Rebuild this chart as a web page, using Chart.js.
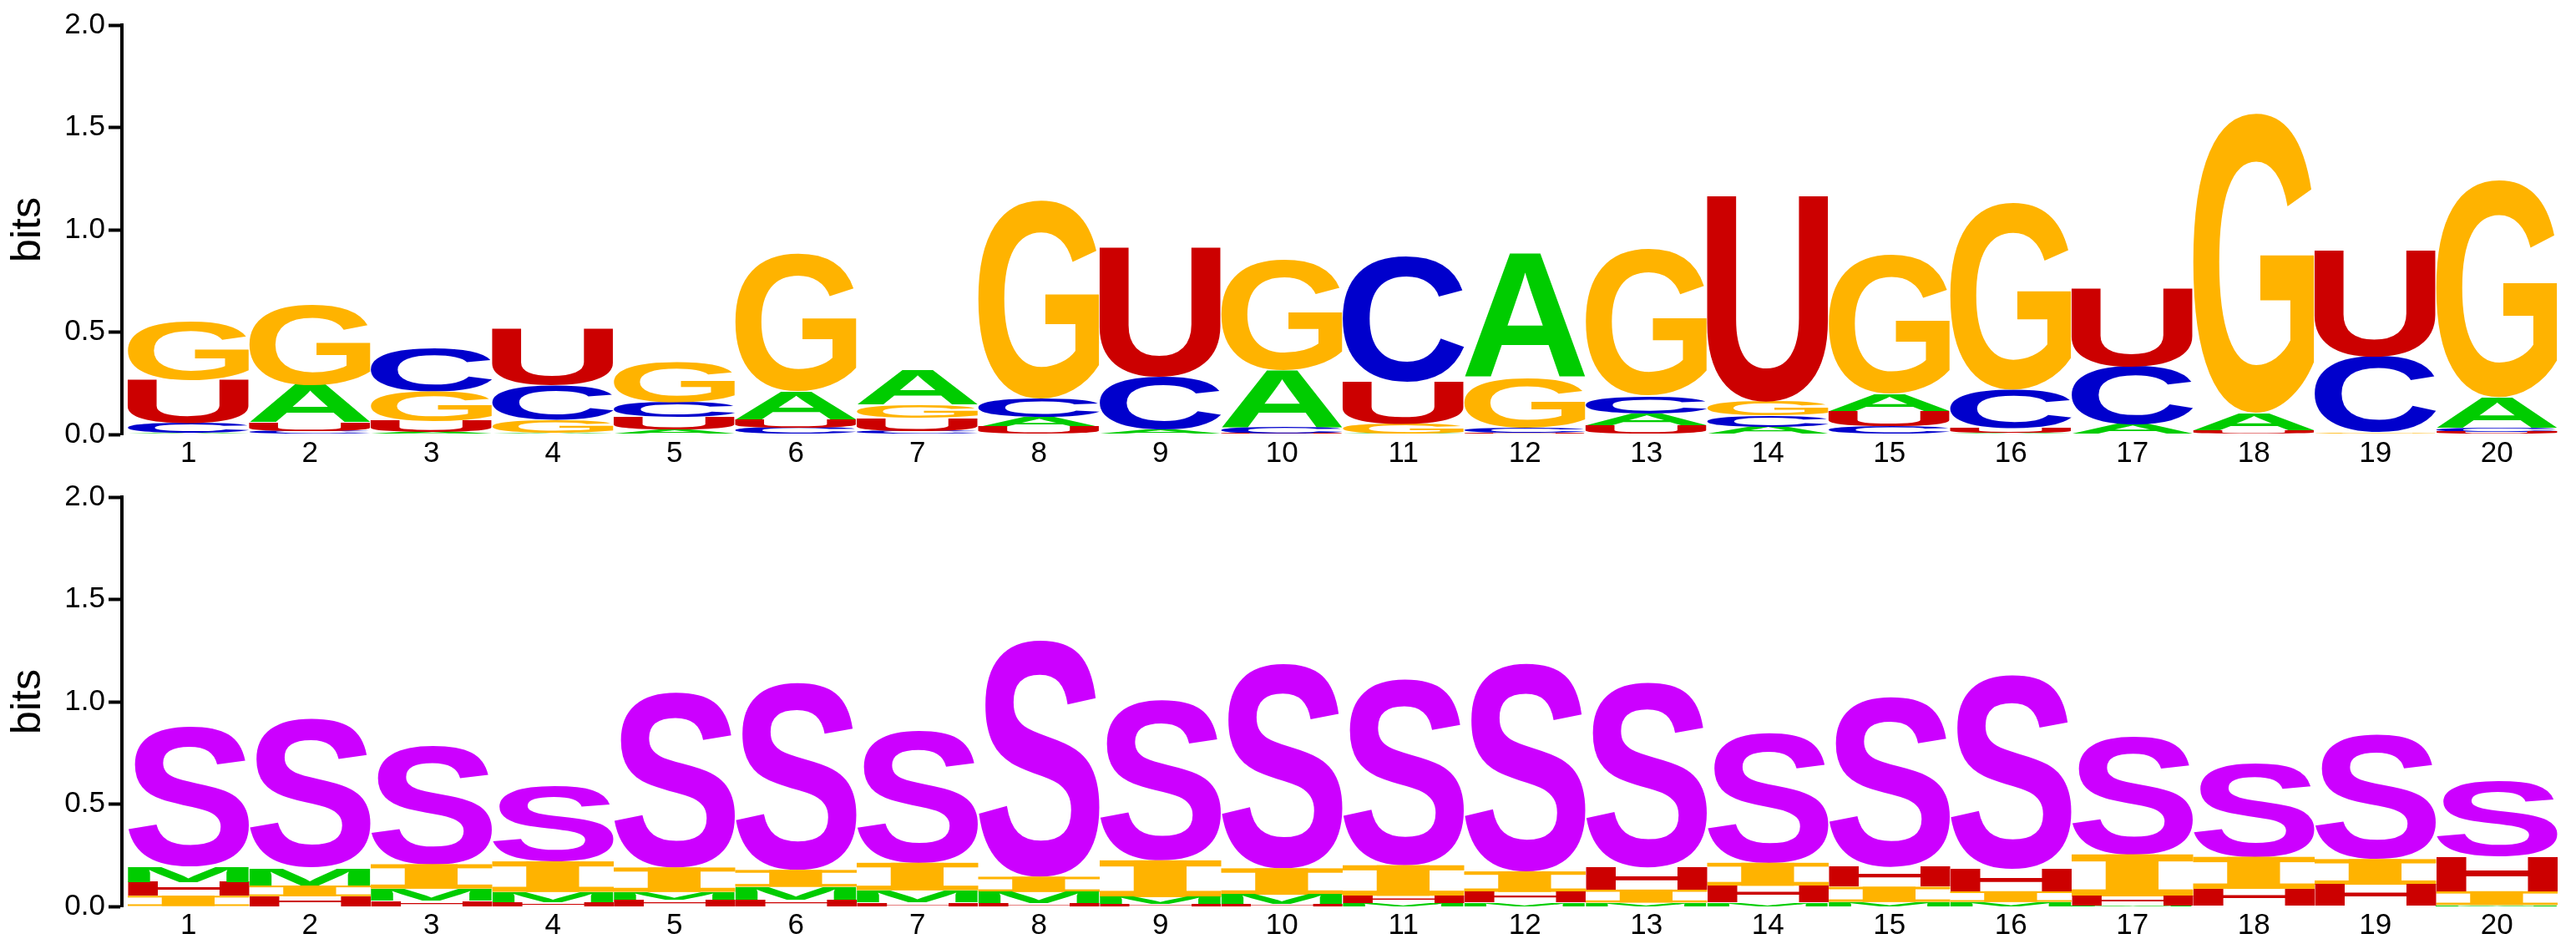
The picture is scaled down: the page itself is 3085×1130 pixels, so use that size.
<!DOCTYPE html>
<html><head><meta charset="utf-8">
<script src="https://cdn.jsdelivr.net/npm/chart.js@4/dist/chart.umd.min.js"></script>
<style>
html,body{margin:0;padding:0;background:#fff;}
.w{width:3085px;height:565px;position:relative;}
canvas{display:block;}
</style>
</head><body>
<div class="w"><canvas id="c1" width="3085" height="565"></canvas></div>
<div class="w"><canvas id="c2" width="3085" height="565"></canvas></div>
<script>
// ---------- data ----------
const positions = [1,2,3,4,5,6,7,8,9,10,11,12,13,14,15,16,17,18,19,20];
const positionLabels = ['1','2','3','4','5','6','7','8','9','10','11','12','13','14','15','16','17','18','19','20'];
const yTickValues = [0, 0.5, 1.0, 1.5, 2.0];
const yTitle = 'bits';

// top panel: nucleotide information (bits)
const rnaLetters = ['A','C','G','U'];
const rnaColors  = ['#00CC00','#0000CC','#FFB300','#CC0000'];
const rnaA = [0.006,0.182,0.010,0.007,0.022,0.138,0.168,0.047,0.022,0.277,0.004,0.608,0.058,0.036,0.085,0.007,0.045,0.085,0.003,0.149];
const rnaC = [0.048,0.015,0.211,0.168,0.073,0.032,0.017,0.092,0.255,0.032,0.612,0.026,0.087,0.055,0.039,0.187,0.283,0.004,0.370,0.023];
const rnaG = [0.284,0.390,0.146,0.066,0.200,0.671,0.066,0.969,0.004,0.539,0.047,0.243,0.714,0.069,0.675,0.914,0.003,1.464,0.007,1.061];
const rnaU = [0.211,0.044,0.055,0.277,0.061,0.041,0.063,0.036,0.633,0.004,0.204,0.007,0.044,1.006,0.073,0.025,0.383,0.017,0.522,0.010];

// bottom panel: structure context information (bits)
const structLetters = ['S','I','H','M'];
const structColors  = ['#CC00FF','#FFB300','#CC0000','#00CC00'];
const structS = [0.682,0.729,0.580,0.365,0.856,0.915,0.647,1.156,0.784,1.000,0.909,1.016,0.903,0.635,0.830,0.948,0.576,0.457,0.607,0.368];
const structI = [0.052,0.052,0.119,0.149,0.119,0.082,0.134,0.074,0.179,0.129,0.149,0.100,0.063,0.112,0.074,0.052,0.205,0.156,0.125,0.067];
const structH = [0.067,0.050,0.030,0.022,0.034,0.034,0.019,0.016,0.012,0.012,0.036,0.052,0.109,0.082,0.097,0.109,0.045,0.083,0.103,0.168];
const structM = [0.074,0.086,0.057,0.049,0.037,0.062,0.060,0.055,0.034,0.045,0.016,0.019,0.019,0.019,0.022,0.022,0.004,0.003,0.003,0.007];

// ---------- glyph drawing ----------
const GLYPH_FONT = 'bold 200px "Liberation Sans", Arial, sans-serif';
const glyphCache = {};
function glyphBox(ctx, ch){
  if (glyphCache[ch]) return glyphCache[ch];
  ctx.save(); ctx.font = GLYPH_FONT; const m = ctx.measureText(ch); ctx.restore();
  return glyphCache[ch] = {l:m.actualBoundingBoxLeft, r:m.actualBoundingBoxRight, a:m.actualBoundingBoxAscent, d:m.actualBoundingBoxDescent};
}
function drawGlyph(ctx, ch, color, x0, y0, w, h){
  if (!(w > 0) || !(h > 0)) return;
  ctx.save();
  ctx.fillStyle = color;
  if (ch === 'I') {
    const bh = h * 0.167;
    ctx.fillRect(x0, y0, w, bh);
    ctx.fillRect(x0, y0 + h - bh, w, bh);
    ctx.fillRect(x0 + w * 0.28, y0, w * 0.435, h);
  } else {
    const b = glyphBox(ctx, ch);
    ctx.translate(x0, y0);
    ctx.scale(w / (b.l + b.r), h / (b.a + b.d));
    ctx.font = GLYPH_FONT;
    ctx.textAlign = 'left';
    ctx.textBaseline = 'alphabetic';
    ctx.fillText(ch, b.l, b.a);
  }
  ctx.restore();
}
const logoPlugin = {
  id: 'logoGlyphs',
  afterDatasetsDraw(chart){
    const ctx = chart.ctx;
    chart.data.datasets.forEach((ds, di) => {
      const meta = chart.getDatasetMeta(di);
      meta.data.forEach(el => {
        const p = el.getProps(['x','y','base','width'], true);
        const top = Math.min(p.y, p.base), h = Math.abs(p.base - p.y);
        drawGlyph(ctx, ds.letter, ds.glyphColor, p.x - p.width / 2, top, p.width, h);
      });
    });
  }
};

// build stacked floating segments: per column, smallest at bottom
function buildDatasets(letters, colors, series){
  const ranges = letters.map(() => []);
  positions.forEach((pos, i) => {
    const order = letters.map((_, k) => k).sort((a, b) => series[a][i] - series[b][i]);
    let acc = 0;
    order.forEach(k => { const v = series[k][i]; ranges[k][i] = {x: pos, y: [acc, acc + v]}; acc += v; });
  });
  return letters.map((L, k) => ({
    label: L, letter: L, glyphColor: colors[k], data: ranges[k],
    backgroundColor: 'rgba(0,0,0,0)', borderWidth: 0,
    barPercentage: 1, categoryPercentage: 1, grouped: false
  }));
}

const tickFont = {family: '"Liberation Sans", Arial, sans-serif', size: 35};
function makeChart(id, letters, colors, series){
  return new Chart(document.getElementById(id), {
    type: 'bar',
    data: {datasets: buildDatasets(letters, colors, series)},
    plugins: [logoPlugin],
    options: {
      responsive: false, animation: false, devicePixelRatio: 1, events: [],
      layout: {padding: {top: 30, right: 22, left: 0, bottom: 0}},
      plugins: {legend: {display: false}, tooltip: {enabled: false}},
      scales: {
        x: {
          type: 'linear', offset: false, min: 0.452, max: 20.5,
          afterBuildTicks: s => { s.ticks = positions.map(v => ({value: v})); },
          ticks: {callback: (v, i) => positionLabels[i], font: tickFont, color: '#000', padding: 2, autoSkip: false, maxRotation: 0},
          grid: {display: false, drawTicks: false, offset: false},
          border: {display: false},
          afterFit: s => { s.height = 45; }
        },
        y: {
          min: 0, max: 2,
          afterBuildTicks: s => { s.ticks = yTickValues.map(v => ({value: v})); },
          ticks: {callback: v => Number(v).toFixed(1), font: tickFont, color: '#000', padding: 4},
          grid: {drawOnChartArea: false, drawTicks: true, tickLength: 16, tickWidth: 4, tickColor: '#000'},
          border: {display: true, width: 4, color: '#000'},
          title: {display: true, text: yTitle, color: '#000', font: {family: '"Liberation Sans", Arial, sans-serif', size: 50}},
          afterFit: s => { s.width = 146; }
        }
      }
    }
  });
}
makeChart('c1', rnaLetters, rnaColors, [rnaA, rnaC, rnaG, rnaU]);
makeChart('c2', structLetters, structColors, [structS, structI, structH, structM]);
</script>
</body></html>
